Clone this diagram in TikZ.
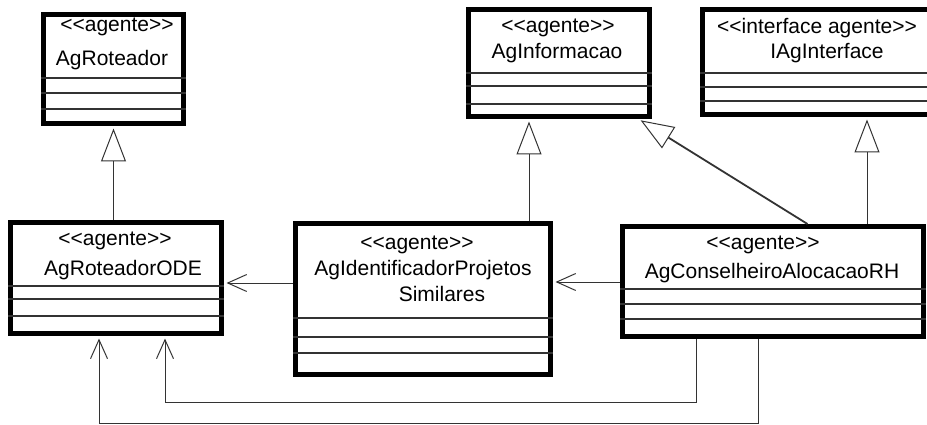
\documentclass[tikz,border=0pt]{standalone}
\usepackage{fontspec}
\newfontfamily\umlfont{Liberation Sans}
\usetikzlibrary{arrows.meta}
\begin{document}
\begin{tikzpicture}[x=1pt,y=-1pt,
  umlbox/.style={draw=black, line width=5pt, inner sep=0pt, fill=white},
  sep/.style={draw=black!80, line width=1.1pt},
  txt/.style={font=\umlfont\fontsize{21}{25}\selectfont, inner sep=0pt, anchor=center},
  conn/.style={draw=black!80, line width=1pt},
  gen/.style={conn, -{Triangle[open, length=33pt, width=25pt, line width=1pt]}, shorten >=2.5pt},
  dep/.style={conn, -{Straight Barb[length=19pt, width=17pt, line width=1pt]}, shorten >=2.5pt}
]
\useasboundingbox (0,0) rectangle (927,425);
\clip (0,0) rectangle (927,425);

% class boxes
\node[umlbox, minimum width=140pt, minimum height=109pt] (A) at (113.5,69) {};
\node[umlbox, minimum width=181pt, minimum height=107pt] (B) at (559,63) {};
\node[umlbox, minimum width=232pt, minimum height=105pt] (C) at (818.5,62) {};
\node[umlbox, minimum width=211pt, minimum height=111pt] (D) at (116,278) {};
\node[umlbox, minimum width=255pt, minimum height=151pt] (E) at (423,299) {};
\node[umlbox, minimum width=301pt, minimum height=110pt] (F) at (773,281.5) {};

% compartments
\foreach \y in {78,93,109} \draw[sep] (A.west |- 0,\y) -- (A.east |- 0,\y);
\foreach \y in {73,86,104} \draw[sep] (B.west |- 0,\y) -- (B.east |- 0,\y);
\foreach \y in {73,87,101} \draw[sep] (C.west |- 0,\y) -- (C.east |- 0,\y);
\foreach \y in {286,299,316} \draw[sep] (D.west |- 0,\y) -- (D.east |- 0,\y);
\foreach \y in {318,337,353} \draw[sep] (E.west |- 0,\y) -- (E.east |- 0,\y);
\foreach \y in {289,304,319} \draw[sep] (F.west |- 0,\y) -- (F.east |- 0,\y);

% names and stereotypes
\node[txt] (As) at (117,27) {<<agente>>};
\node[txt] (An) at (112,60) {AgRoteador};
\node[txt] (Bs) at (558,28) {<<agente>>};
\node[txt] (Bn) at (557,53) {AgInformacao};
\node[txt] (Cs) at (817,28) {<<interface agente>>};
\node[txt] (Cn) at (827,53) {IAgInterface};
\node[txt] (Ds) at (115,241) {<<agente>>};
\node[txt] (Dn) at (123,270) {AgRoteadorODE};
\node[txt] (Es) at (417,245) {<<agente>>};
\node[txt] (En) at (423,270) {AgIdentificadorProjetos};
\node[txt] (En2) at (442,294) {Similares};
\node[txt] (Fs) at (763,245) {<<agente>>};
\node[txt] (Fn) at (772,273) {AgConselheiroAlocacaoRH};

% generalizations
\draw[gen] (A.south |- D.north) -- (A.south);
\draw[gen] ([xshift=-30pt]B.south |- E.north) -- ([xshift=-30pt]B.south);
\draw[gen] ([xshift=94pt]F.north |- F.north) -- ([xshift=48.5pt]C.south);
\draw[gen, line width=1.8pt] ([xshift=187.5pt]F.north west) -- ([xshift=-13.5pt]B.south east);

% dependencies
\draw[dep] (E.west |- 0,283) -- (D.east |- 0,283);
\draw[dep] (F.west |- 0,282) -- (E.east |- 0,282);
\draw[dep] ([xshift=76.5pt]F.south west) |- (165,402) -- (D.south -| 165,0);
\draw[dep] ([xshift=138.5pt]F.south west) |- (99,423) -- (D.south -| 99,0);
\end{tikzpicture}
\end{document}
